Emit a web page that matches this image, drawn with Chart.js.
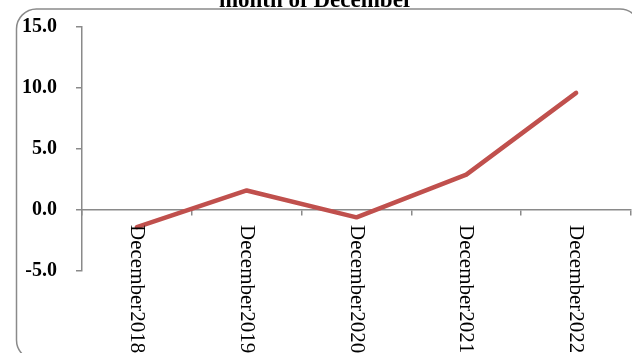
<!DOCTYPE html>
<html>
<head>
<meta charset="utf-8">
<script src="https://cdn.jsdelivr.net/npm/chart.js@4"></script>
<style>
  html, body { margin: 0; padding: 0; background: #fff; overflow: hidden; }
  canvas { display: block; }
</style>
</head>
<body>
<canvas id="c" width="632" height="353"></canvas>
<script>
const categories = ["December2018", "December2019", "December2020", "December2021", "December2022"];
const inflationValues = [-1.4, 1.6, -0.6, 2.9, 9.6];
const titleText = "month of December";
const yMin = -5, yMax = 15, yStep = 5;

const SERIF = '"Liberation Serif", "Times New Roman", serif';

const framePlugin = {
  id: 'frame',
  beforeDraw(chart) {
    const ctx = chart.ctx;
    ctx.save();
    const x = 16.5, y = 9, w = 640 - 16.5, h = 360 - 9, r = 20;
    ctx.beginPath();
    ctx.moveTo(x + r, y);
    ctx.lineTo(x + w - r, y);
    ctx.arcTo(x + w, y, x + w, y + r, r);
    ctx.lineTo(x + w, y + h - r);
    ctx.arcTo(x + w, y + h, x + w - r, y + h, r);
    ctx.lineTo(x + r, y + h);
    ctx.arcTo(x, y + h, x, y + h - r, r);
    ctx.lineTo(x, y + r);
    ctx.arcTo(x, y, x + r, y, r);
    ctx.closePath();
    ctx.strokeStyle = '#8a8a8a';
    ctx.lineWidth = 1.5;
    ctx.stroke();
    ctx.fillStyle = '#000';
    ctx.font = 'bold 23px ' + SERIF;
    ctx.textAlign = 'center';
    ctx.textBaseline = 'alphabetic';
    ctx.fillText(titleText, 316, 7);
    ctx.restore();
  },
  afterDraw(chart) {
    const ctx = chart.ctx;
    const xs = chart.scales.x;
    ctx.save();
    ctx.fillStyle = '#000';
    ctx.font = '21px ' + SERIF;
    ctx.textAlign = 'left';
    ctx.textBaseline = 'alphabetic';
    categories.forEach((lab, i) => {
      const px = xs.getPixelForValue(i);
      ctx.save();
      ctx.translate(px - 6, 225);
      ctx.rotate(Math.PI / 2);
      ctx.fillText(lab, 0, 0);
      ctx.restore();
    });
    ctx.restore();
  }
};

new Chart(document.getElementById('c'), {
  type: 'line',
  data: {
    labels: categories,
    datasets: [{
      data: inflationValues,
      borderColor: '#C0504D',
      borderWidth: 4.5,
      borderCapStyle: 'round',
      borderJoinStyle: 'round',
      pointRadius: 0,
      tension: 0,
      fill: false
    }]
  },
  options: {
    responsive: false,
    animation: false,
    layout: { padding: { top: 27, bottom: 82, left: 0, right: 1 } },
    plugins: { legend: { display: false }, tooltip: { enabled: false }, title: { display: false } },
    scales: {
      x: {
        type: 'category',
        offset: true,
        position: { y: 0 },
        grid: { display: true, drawOnChartArea: false, drawTicks: true, tickLength: 5, offset: true, color: '#8a8a8a', lineWidth: 1.5 },
        border: { display: true, color: '#8a8a8a', width: 1.5 },
        ticks: { display: false }
      },
      y: {
        min: yMin,
        max: yMax,
        afterFit(scale) { scale.width = 82; scale.paddingTop = 0; scale.paddingBottom = 0; },
        grid: { display: true, drawOnChartArea: false, drawTicks: true, tickLength: 6, color: '#8a8a8a', lineWidth: 1.5 },
        border: { display: true, color: '#8a8a8a', width: 1.5 },
        ticks: {
          stepSize: yStep,
          padding: 19,
          color: '#000',
          font: { family: SERIF, size: 20, weight: 'bold' },
          callback: (v) => Number(v).toFixed(1)
        }
      }
    }
  },
  plugins: [framePlugin]
});
</script>
</body>
</html>
